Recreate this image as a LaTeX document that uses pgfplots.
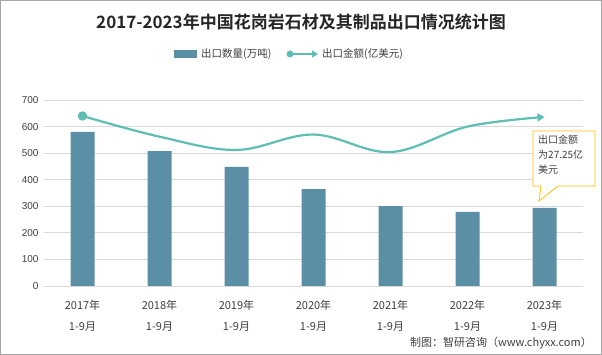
\documentclass[border=0pt]{standalone}
\usepackage{fontspec}
\setmainfont{Liberation Sans}
\newfontfamily\cjk{Noto Sans CJK SC}
\newfontfamily\cjkb{Noto Sans CJK SC Bold}
\usepackage{pgfplots}
\pgfplotsset{compat=1.18}
\usetikzlibrary{arrows.meta}
\definecolor{barc}{RGB}{91,143,166}
\definecolor{linec}{RGB}{94,190,180}
\definecolor{gridc}{RGB}{217,217,217}
\definecolor{txt}{RGB}{64,64,64}
\definecolor{callc}{RGB}{255,192,0}
\begin{document}
\begin{tikzpicture}[x=1pt,y=1pt]
\fill[white] (0,0) rectangle (602,355);
\draw[gray!70,line width=1pt] (0.5,0.5) rectangle (601.5,354.5);
\node[font=\cjkb\fontsize{17}{20}\selectfont,text=black!85] at (301,333) {2017-2023年中国花岗岩石材及其制品出口情况统计图};
% legend
\fill[barc] (174,297) rectangle (197,305);
\node[anchor=west,font=\cjk\fontsize{10.5}{12}\selectfont,text=txt,inner sep=0] at (201,301) {出口数量(万吨)};
\draw[linec,line width=2pt,-{Triangle[length=6pt,width=7pt]}] (290,301) -- (318,301);
\fill[linec] (290,301) circle (3.5pt);
\node[anchor=west,font=\cjk\fontsize{10.5}{12}\selectfont,text=txt,inner sep=0] at (322,301) {出口金额(亿美元)};
\begin{axis}[
  at={(44pt,69pt)}, anchor=south west, scale only axis,
  width=539pt, height=186pt,
  xmin=-0.5, xmax=6.5, ymin=0, ymax=700,
  ytick={0,100,...,700},
  xtick={0,...,6},
  xticklabels={{2017年\\1-9月},{2018年\\1-9月},{2019年\\1-9月},{2020年\\1-9月},{2021年\\1-9月},{2022年\\1-9月},{2023年\\1-9月}},
  xticklabel style={font=\cjk\fontsize{11}{21}\selectfont,text=txt,align=center,yshift=-11pt},
  yticklabel style={font=\fontsize{10}{12}\selectfont,text=txt,xshift=-2pt},
  /pgf/number format/assume math mode=true,
  ymajorgrids, grid style={gridc,line width=0.8pt},
  axis line style={draw=none},
  major tick length=0pt,
  clip=false,
]
\addplot[ybar, bar width=24pt, fill=barc, draw=none] coordinates {(0,580) (1,508) (2,448) (3,365) (4,301) (5,279) (6,294)};
\addplot[linec, line width=2.2pt, smooth, tension=0.6, mark=*, mark indices={1}, mark size=3.5pt, mark options={fill=linec,draw=linec}, -{Triangle[length=7pt,width=8pt]}] coordinates {(0,640) (1,562) (2,512) (3,570) (4,504) (5,600) (6,636)};
\draw[gridc,line width=0.8pt] (axis cs:-0.5,0) -- (axis cs:6.5,0);
\end{axis}
% callout
\draw[callc,line width=0.8pt,fill=white] (533,224) -- (595,224) -- (595,169) -- (558,169) -- (539,154) -- (541,169) -- (533,169) -- cycle;
\node[font=\cjk\fontsize{10}{15}\selectfont,text=txt,align=left,anchor=north west,inner sep=0] at (538,220) {出口金额\\为27.25亿\\美元};
% source
\node[anchor=east,font=\cjk\fontsize{11}{13}\selectfont,text=txt,inner sep=0] at (592,12) {制图：智研咨询（www.chyxx.com）};
\end{tikzpicture}
\end{document}
